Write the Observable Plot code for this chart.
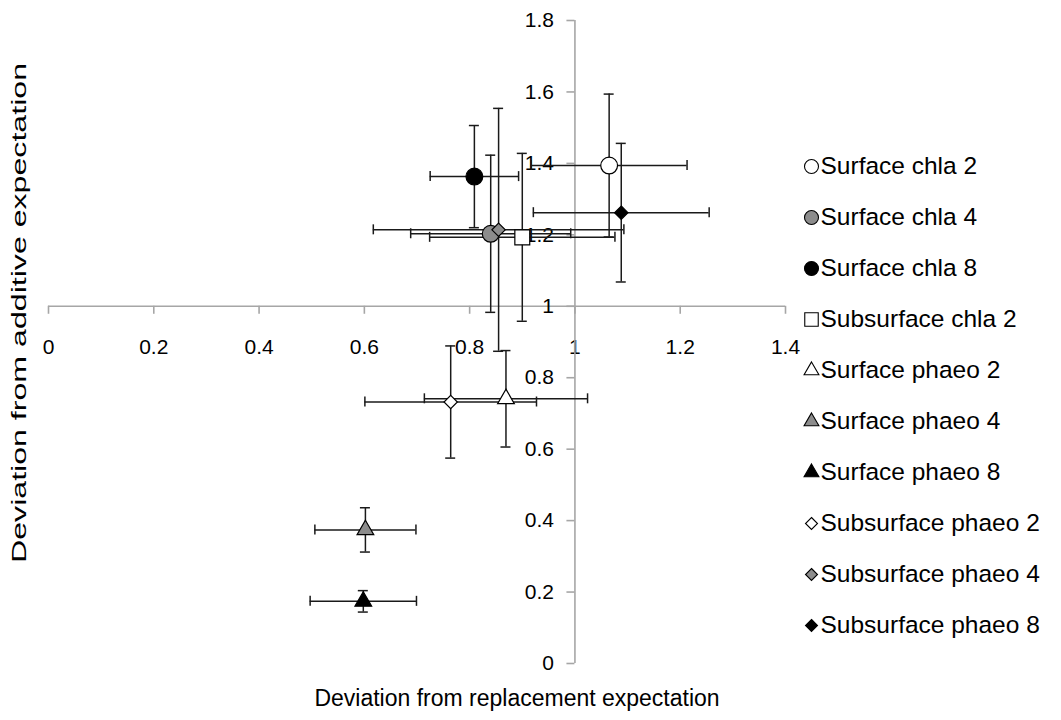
<!DOCTYPE html>
<html><head><meta charset="utf-8">
<script src="https://cdn.jsdelivr.net/npm/d3@7"></script>
<script src="https://cdn.jsdelivr.net/npm/@observablehq/plot@0.6"></script>
<style>
body{margin:0;background:#fff;font-family:"Liberation Sans",Arial,sans-serif;}
#wrap{position:relative;width:1061px;height:720px;overflow:hidden;}
#chart{position:absolute;left:0;top:0;}
#legend{position:absolute;left:796px;top:0;}
</style></head><body><div id="wrap"><div id="chart"></div><div id="legend"></div></div>
<script>
const series = ["Surface chla 2","Surface chla 4","Surface chla 8","Subsurface chla 2","Surface phaeo 2","Surface phaeo 4","Surface phaeo 8","Subsurface phaeo 2","Subsurface phaeo 4","Subsurface phaeo 8"];
const xValues = [1.065, 0.840, 0.809, 0.900, 0.869, 0.602, 0.598, 0.764, 0.855, 1.088];
const xErrors = [0.148, 0.152, 0.084, 0.176, 0.155, 0.096, 0.101, 0.163, 0.238, 0.167];
const yValues = [1.394, 1.203, 1.363, 1.193, 0.741, 0.374, 0.174, 0.732, 1.214, 1.262];
const yErrors = [0.200, 0.220, 0.143, 0.235, 0.135, 0.062, 0.030, 0.157, 0.340, 0.194];
const xTicks = [0, 0.2, 0.4, 0.6, 0.8, 1, 1.2, 1.4];
const yTicks = [0, 0.2, 0.4, 0.6, 0.8, 1, 1.2, 1.4, 1.6, 1.8];
const xTitle = "Deviation from replacement expectation";
const yTitle = "Deviation from additive expectation";

// style helpers (derived from series names)
const symbolOf = n => n.startsWith("Subsurface") ? (n.includes("chla") ? "square" : "diamond2") : (n.includes("chla") ? "circle" : "triangle");
const fillOf = n => n.endsWith("2") ? "white" : n.endsWith("4") ? "#8c8c8c" : "black";
const rMain = {circle: 8.4, square: 8.4, triangle: 6.2, diamond2: 6.0};
const rLegend = {circle: 7.0, square: 7.6, triangle: 5.5, diamond2: 5.4};

const points = series.map((name, i) => ({name, x: xValues[i], xe: xErrors[i], y: yValues[i], ye: yErrors[i], symbol: symbolOf(name), fill: fillOf(name)}));

const axisColor = "#a6a6a6";
const barColor = "#1a1a1a";
const font = "Liberation Sans, Arial, sans-serif";

const dotMarks = (data, rmap) => ["circle","square","triangle","diamond2"].map(s =>
  Plot.dot(data.filter(d => d.symbol === s), {
    x: "x", y: "y", symbol: () => s, fill: "fill", stroke: "black", strokeWidth: 1.2, r: rmap[s]
  })
);

const chart = Plot.plot({
  width: 1061, height: 720,
  marginLeft: 48, marginRight: 276, marginTop: 20, marginBottom: 57,
  x: {domain: [0, 1.4], axis: null},
  y: {domain: [0, 1.8], axis: null},
  symbol: {type: "identity"},
  fill: {type: "identity"},
  style: {fontFamily: font, fontSize: "21px", background: "white", overflow: "visible"},
  marks: [
    // axes crossing at (1,1)
    Plot.ruleY([1], {x1: 0, x2: 1.4, stroke: axisColor, strokeWidth: 1.6}),
    Plot.ruleX(xTicks, {x: d => d, y1: 1, y2: 1, insetBottom: -8, stroke: axisColor, strokeWidth: 1.6}),
    Plot.text(xTicks, {x: d => d, y: 1, dy: 41, text: d => String(d), fill: "black", fontSize: 21}),
    Plot.ruleX([1], {y1: 0, y2: 1.8, stroke: axisColor, strokeWidth: 1.6}),
    Plot.ruleY(yTicks, {y: d => d, x1: 1, x2: 1, insetLeft: -8, stroke: axisColor, strokeWidth: 1.6}),
    Plot.text(yTicks, {x: 1, y: d => d, dx: -21, textAnchor: "end", text: d => String(d), fill: "black", fontSize: 21}),
    // horizontal error bars
    Plot.ruleY(points, {y: "y", x1: d => d.x - d.xe, x2: d => d.x + d.xe, stroke: barColor, strokeWidth: 1.5}),
    Plot.ruleX(points, {x: d => d.x - d.xe, y1: "y", y2: "y", insetTop: -5, insetBottom: -5, stroke: barColor, strokeWidth: 1.5}),
    Plot.ruleX(points, {x: d => d.x + d.xe, y1: "y", y2: "y", insetTop: -5, insetBottom: -5, stroke: barColor, strokeWidth: 1.5}),
    // vertical error bars
    Plot.ruleX(points, {x: "x", y1: d => d.y - d.ye, y2: d => d.y + d.ye, stroke: barColor, strokeWidth: 1.5}),
    Plot.ruleY(points, {y: d => d.y - d.ye, x1: "x", x2: "x", insetLeft: -5, insetRight: -5, stroke: barColor, strokeWidth: 1.5}),
    Plot.ruleY(points, {y: d => d.y + d.ye, x1: "x", x2: "x", insetLeft: -5, insetRight: -5, stroke: barColor, strokeWidth: 1.5}),
    ...dotMarks(points, rMain),
    // axis titles
    Plot.text([xTitle], {frameAnchor: "bottom", dx: 100, dy: 42, text: d => d, fill: "black", fontSize: 23}),
    Plot.text([yTitle], {frameAnchor: "left", textAnchor: "middle", dx: -29, dy: -29, rotate: -90, text: d => d, fill: "black", fontSize: 21})
  ]
});
document.getElementById("chart").appendChild(chart);
// stretch the rotated y title to the length it has in the reference
d3.select(chart).selectAll("text").filter(function() { return this.textContent === yTitle; })
  .attr("textLength", 500).attr("lengthAdjust", "spacingAndGlyphs");

const legend = Plot.plot({
  width: 265, height: 720,
  marginLeft: 0, marginRight: 0, marginTop: 0, marginBottom: 0,
  y: {type: "point", domain: series, range: [166, 625], padding: 0, axis: null},
  symbol: {type: "identity"},
  fill: {type: "identity"},
  style: {fontFamily: font, fontSize: "24.5px", background: "transparent"},
  marks: [
    ...["circle","square","triangle","diamond2"].map(s =>
      Plot.dot(points.filter(d => d.symbol === s), {y: "name", frameAnchor: "left", dx: 15, symbol: () => s, fill: "fill", stroke: "black", strokeWidth: 1.1, r: rLegend[s]})
    ),
    Plot.text(series, {y: d => d, frameAnchor: "left", dx: 24, textAnchor: "start", text: d => d, fill: "black", fontSize: 24.5})
  ]
});
document.getElementById("legend").appendChild(legend);
</script></body></html>
